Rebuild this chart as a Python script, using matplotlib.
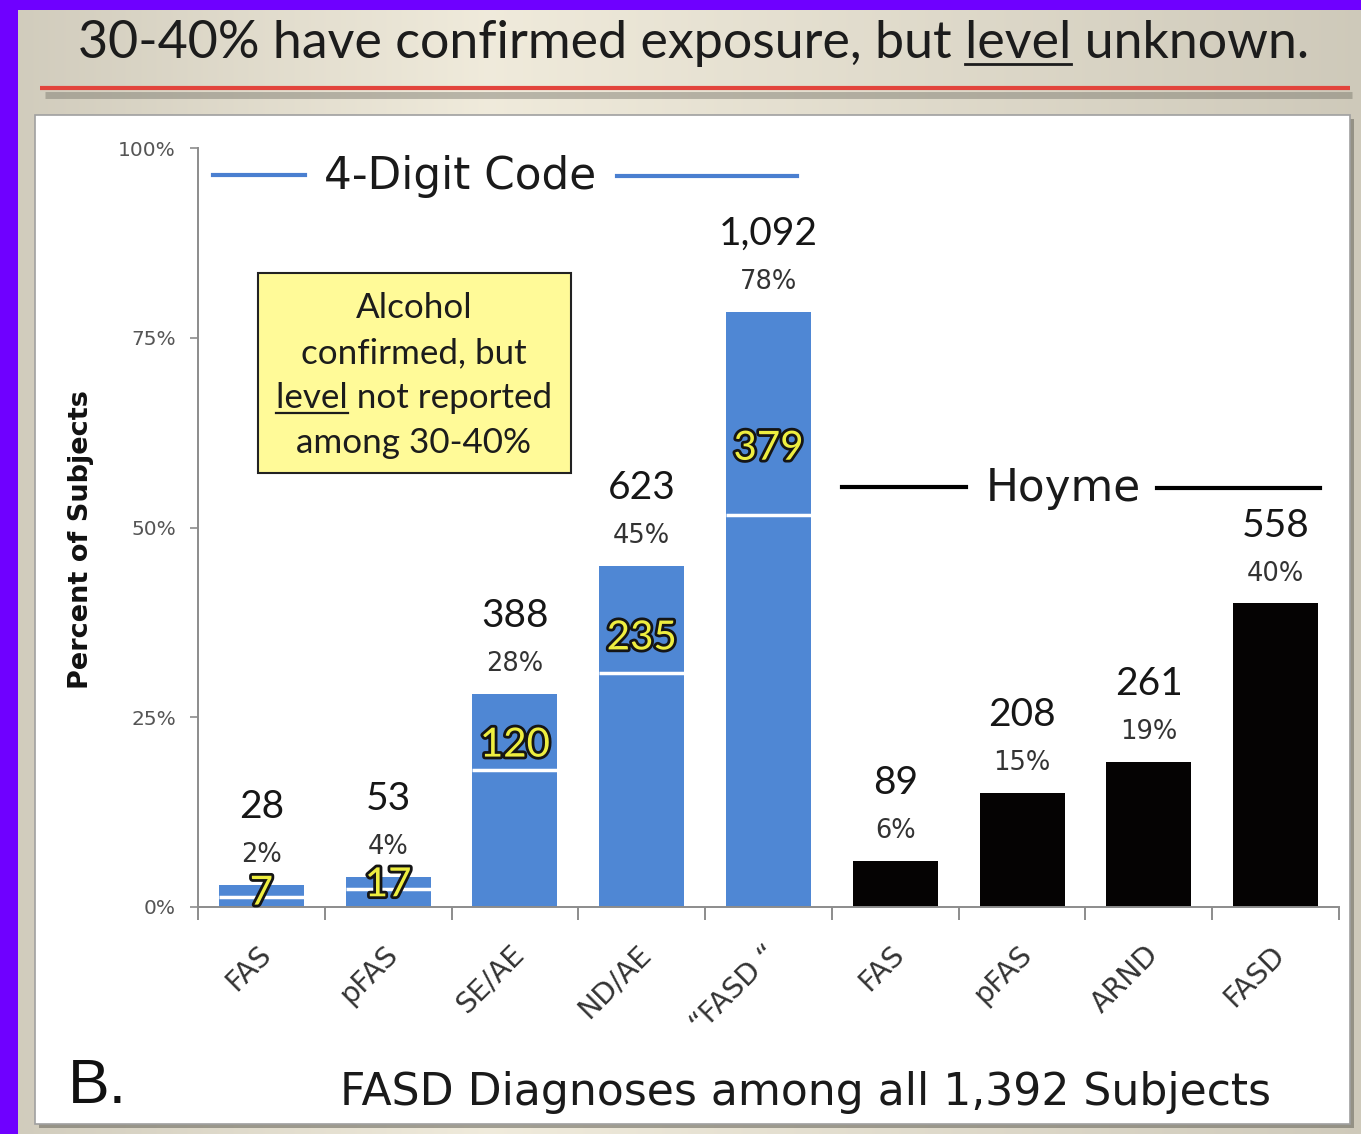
import numpy as np
import matplotlib.pyplot as plt
import matplotlib.patheffects as pe
from matplotlib.patches import Rectangle

W, H = 1361, 1134

# data
digit_cats = ["FAS", "pFAS", "SE/AE", "ND/AE", "\u201cFASD \u201c"]
hoyme_cats = ["FAS", "pFAS", "ARND", "FASD"]
digit_counts = [28, 53, 388, 623, 1092]
hoyme_counts = [89, 208, 261, 558]
digit_pct = [2, 4, 28, 45, 78]
hoyme_pct = [6, 15, 19, 40]
digit_total = [2.9, 4.0, 28.1, 44.9, 78.4]    # bar height, % of subjects
digit_lower = [1.3, 2.4, 18.0, 30.8, 51.6]    # level reported part
digit_unknown = [7, 17, 120, 235, 379]        # level not reported
hoyme_total = [6.1, 15.0, 19.1, 40.0]
y_ticks = [0, 25, 50, 75, 100]

BLUE = "#4f87d4"
GRAY = "#8c8c8c"
PURPLE = "#6f00ff"


def main():
    fig = plt.figure(figsize=(W / 100, H / 100), dpi=100, facecolor=PURPLE)
    renderer = fig.canvas.get_renderer()

    # background layer in pixel coordinates
    bg = fig.add_axes([0, 0, 1, 1], zorder=0)
    bg.set_xlim(0, W)
    bg.set_ylim(H, 0)
    bg.axis("off")

    def text_width(s, **kw):
        t = bg.text(0, 0, s, **kw)
        w = t.get_window_extent(renderer).width
        t.remove()
        return w

    # slide background gradient
    pos = np.linspace(0, 1, 500)
    stops = [0.0, 0.35, 1.0]
    cols = np.array([[0.82, 0.80, 0.74], [0.94, 0.92, 0.86], [0.81, 0.79, 0.73]])
    grad = np.stack([np.interp(pos, stops, cols[:, i]) for i in range(3)], axis=-1)
    bg.imshow(grad[np.newaxis, :, :], extent=[18, W, H, 10], aspect="auto", zorder=0)

    # red rule under the title with its shadow
    bg.plot([45, 1352], [95, 95], color="#77756a", lw=5, alpha=0.45,
            solid_capstyle="butt", zorder=1)
    bg.plot([40, 1350], [88, 88], color="#e2443c", lw=3,
            solid_capstyle="butt", zorder=2)

    # white chart panel with shadow
    bg.add_patch(Rectangle((39, 119), 1315, 1009, facecolor="#6e6c62",
                           alpha=0.6, zorder=1))
    bg.add_patch(Rectangle((35, 115), 1315, 1009, facecolor="white",
                           edgecolor="#a0a0a0", lw=1.2, zorder=2))

    # title with underlined word
    prefix = "30-40% have confirmed exposure, but "
    word = "level"
    full = prefix + word + " unknown."
    tsize = 38 * 1234 / text_width(full, fontsize=38, family="Lato")
    tkw = dict(fontsize=tsize, family="Lato", color="#1c1c1c")
    bg.text(78, 58, full, ha="left", va="baseline", zorder=3, **tkw)
    x1 = 78 + text_width(prefix + word, **tkw)
    x0 = x1 - text_width(word, **tkw)
    bg.plot([x0, x1], [64, 64], color="#1c1c1c", lw=2, zorder=3)

    # yellow note box
    bg.add_patch(Rectangle((258, 273), 313, 200, facecolor="#fffa98",
                           edgecolor="#222222", lw=1.5, zorder=3))
    box_lines = ["Alcohol", "confirmed, but", "level not reported", "among 30-40%"]
    bsize = 24 * 276 / text_width(box_lines[2], fontsize=24, family="Lato")
    bkw = dict(fontsize=bsize, family="Lato", color="#1c1c1c")
    for i, line in enumerate(box_lines):
        bg.text(414, 318 + 45 * i, line, ha="center", va="baseline", zorder=4, **bkw)
    lw_full = text_width(box_lines[2], **bkw)
    lx0 = 414 - lw_full / 2
    lx1 = lx0 + text_width("level", **bkw)
    bg.plot([lx0, lx1], [413, 413], color="#1c1c1c", lw=1.6, zorder=4)

    # group headers
    bg.text(460, 177, "4-Digit Code", ha="center", va="center", fontsize=31.5,
            family="DejaVu Sans", color="#1a1a1a", zorder=4)
    bg.plot([213, 305], [175, 175], color="#4a7fd0", lw=3, zorder=4)
    bg.plot([617, 797], [176, 176], color="#4a7fd0", lw=3, zorder=4)
    bg.text(1063, 488, "Hoyme", ha="center", va="center", fontsize=31.5,
            family="DejaVu Sans", color="#1a1a1a", zorder=4)
    bg.plot([842, 966], [487, 487], color="black", lw=3, zorder=4)
    bg.plot([1157, 1320], [488, 488], color="black", lw=3, zorder=4)

    # y label, caption, panel letter
    bg.text(81, 540, "Percent of Subjects", rotation=90, ha="center", va="center",
            fontsize=19.5, fontweight="bold", family="DejaVu Sans", color="#111111",
            zorder=4)
    caption = "FASD Diagnoses among all 1,392 Subjects"
    csize = 30 * 932 / text_width(caption, fontsize=30, family="DejaVu Sans")
    bg.text(340, 1105, caption, ha="left", va="baseline", fontsize=csize,
            family="DejaVu Sans", color="#1a1a1a", zorder=4)
    bg.text(68, 1103, "B.", ha="left", va="baseline", fontsize=45,
            family="Liberation Sans", color="#111111", zorder=4)

    # main chart
    ax = fig.add_axes([198 / W, 1 - 907 / H, (1339 - 198) / W, (907 - 148) / H],
                      zorder=2)
    ax.patch.set_alpha(0)
    bw = 0.67
    xd = np.arange(len(digit_cats))
    xh = np.arange(len(hoyme_cats)) + len(digit_cats)

    ax.bar(xd, digit_total, width=bw, color=BLUE, zorder=2)
    ax.hlines(digit_lower, xd - bw / 2, xd + bw / 2, color="white", lw=2.5, zorder=3)
    ax.bar(xh, hoyme_total, width=bw, color="#050303", zorder=2)

    ax.set_xlim(-0.5, 8.5)
    ax.set_ylim(0, 100)

    for spine in ["top", "right"]:
        ax.spines[spine].set_visible(False)
    for spine in ["left", "bottom"]:
        ax.spines[spine].set_color(GRAY)
        ax.spines[spine].set_linewidth(1.4)

    ax.set_yticks(y_ticks, [f"{v}%" for v in y_ticks])
    ax.tick_params(axis="y", length=6, width=1.2, color=GRAY, labelsize=14.5,
                   labelcolor="#555555", pad=10)
    ax.set_xticks(np.arange(-0.5, 9, 1.0), [""] * 10)
    ax.tick_params(axis="x", which="major", length=9, width=1.4, color=GRAY)
    ax.set_xticks(np.arange(9) + 0.04, digit_cats + hoyme_cats, minor=True)
    ax.tick_params(axis="x", which="minor", length=0, pad=31, labelsize=20.5,
                   labelcolor="#333333")
    for lab in ax.get_xticklabels(minor=True):
        lab.set_rotation(45)
        lab.set_ha("right")
        lab.set_va("center")
        lab.set_rotation_mode("anchor")
        lab.set_family("DejaVu Sans")

    # value labels above bars
    xs = list(xd) + list(xh)
    tops = digit_total + hoyme_total
    counts = digit_counts + hoyme_counts
    pcts = digit_pct + hoyme_pct
    for x, top, n, p in zip(xs, tops, counts, pcts):
        ax.annotate(f"{p}%", (x, top), xytext=(0, 21.5), textcoords="offset points",
                    ha="center", va="center", fontsize=18.5, color="#333333",
                    family="DejaVu Sans")
        ax.annotate(f"{n:,}", (x, top), xytext=(0, 56), textcoords="offset points",
                    ha="center", va="center", fontsize=28, color="#161616",
                    family="Lato")

    # yellow counts for unknown level
    for x, lo, top, u in zip(xd, digit_lower, digit_total, digit_unknown):
        ax.text(x, lo + 0.33 * (top - lo), str(u), ha="center", va="center",
                fontsize=29, color="#eeee40", family="Lato", zorder=5,
                path_effects=[pe.withStroke(linewidth=4, foreground="#151515")])

    fig.savefig("out.png", dpi=100, facecolor=PURPLE)


if __name__ == "__main__":
    main()
